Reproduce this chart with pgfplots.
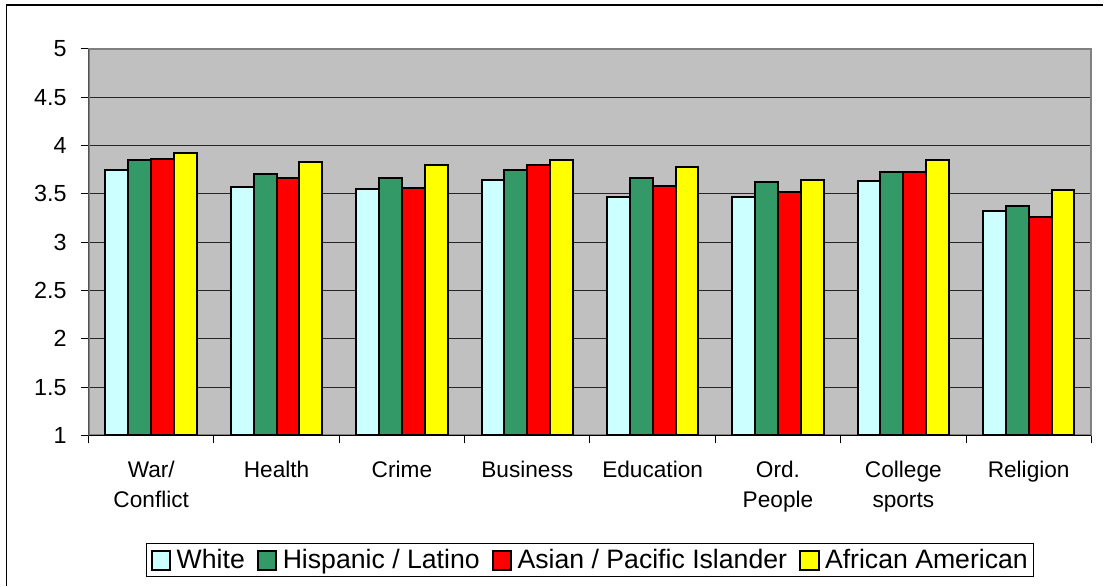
\documentclass[border=0pt]{standalone}
\usepackage{pgfplots}
\pgfplotsset{compat=1.18}
\usepackage{pgfplotstable}
\usepackage{fontspec}
\setmainfont{Liberation Sans}

\definecolor{cwhite}{HTML}{CCFFFF}
\definecolor{chisp}{HTML}{339966}
\definecolor{casian}{HTML}{FF0000}
\definecolor{cafr}{HTML}{FFFF00}
\definecolor{plotbg}{HTML}{C0C0C0}
\definecolor{plotframe}{HTML}{808080}

% mean ratings per topic, by group
\pgfplotstableread{
idx white hispanic asian african
0 3.75 3.85 3.86 3.92
1 3.57 3.71 3.66 3.83
2 3.55 3.66 3.56 3.80
3 3.64 3.75 3.80 3.85
4 3.47 3.66 3.58 3.78
5 3.47 3.62 3.52 3.64
6 3.63 3.73 3.73 3.85
7 3.32 3.37 3.26 3.54
}\ratings

\begin{document}
\begin{tikzpicture}
\begin{axis}[
  name=ax, at={(0pt,0pt)}, anchor=south west,
  width=753pt, height=290.25pt, scale only axis,
  xmin=-0.5, xmax=7.5, ymin=1, ymax=5,
  ytick={1,1.5,...,5},
  ymajorgrids,
  grid style={black!85, line width=0.75pt},
  axis background/.style={fill=plotbg},
  axis line style={draw=plotframe, line width=1.5pt},
  tick align=outside,
  tick pos=left,
  tick style={black, line width=0.75pt},
  major tick length=6pt,
  minor tick length=6pt,
  xtick={0,...,7},
  xticklabels={{War/\\Conflict},{Health},{Crime},{Business},{Education},{Ord.\\People},{College\\sports},{Religion}},
  major x tick style={draw=none},
  minor xtick={-0.5,0.5,...,7.5},
  xticklabel style={align=center, font=\fontsize{17pt}{22.5pt}\selectfont, yshift=-10pt},
  yticklabel style={font=\fontsize{17.5pt}{20pt}\selectfont, xshift=-7pt},
  /pgf/number format/assume math mode=true,
  ybar=0pt, bar width=0.1825,
  every axis plot/.append style={draw=black, line width=1.5pt},
  legend columns=4,
  legend style={at={(0.5,-0.323)}, anchor=center, draw=black, line width=0.75pt,
    font=\fontsize{20pt}{24pt}\selectfont,
    inner xsep=3pt, inner ysep=3.5pt,
    nodes={inner sep=1pt},
    /tikz/every odd column/.append style={column sep=3pt},
    /tikz/every even column/.append style={column sep=8pt}},
  legend image code/.code={\draw[#1, draw=black, line width=1.5pt] (0pt,-7pt) rectangle (14pt,7pt);},
]
\addplot[fill=cwhite] table[x=idx, y=white] {\ratings};
\addplot[fill=chisp] table[x=idx, y=hispanic] {\ratings};
\addplot[fill=casian] table[x=idx, y=asian] {\ratings};
\addplot[fill=cafr] table[x=idx, y=african] {\ratings};
\legend{White, Hispanic / Latino, Asian / Pacific Islander, African American}
% black value and category axes over the grey frame
\draw[black, line width=1pt] (rel axis cs:0,1) -- (rel axis cs:0,0) -- (rel axis cs:1,0);
\end{axis}
% page extent and outer chart frame, measured from the plot area's corner
\path (ax.south west) ++(-66pt,-113.25pt) coordinate (pg) rectangle ++(828pt,440.25pt);
\draw[line width=1pt] (pg) ++(4.5pt,0pt) -- ++(0pt,436.5pt) -- ++(823.5pt,0pt);
\end{tikzpicture}
\end{document}
